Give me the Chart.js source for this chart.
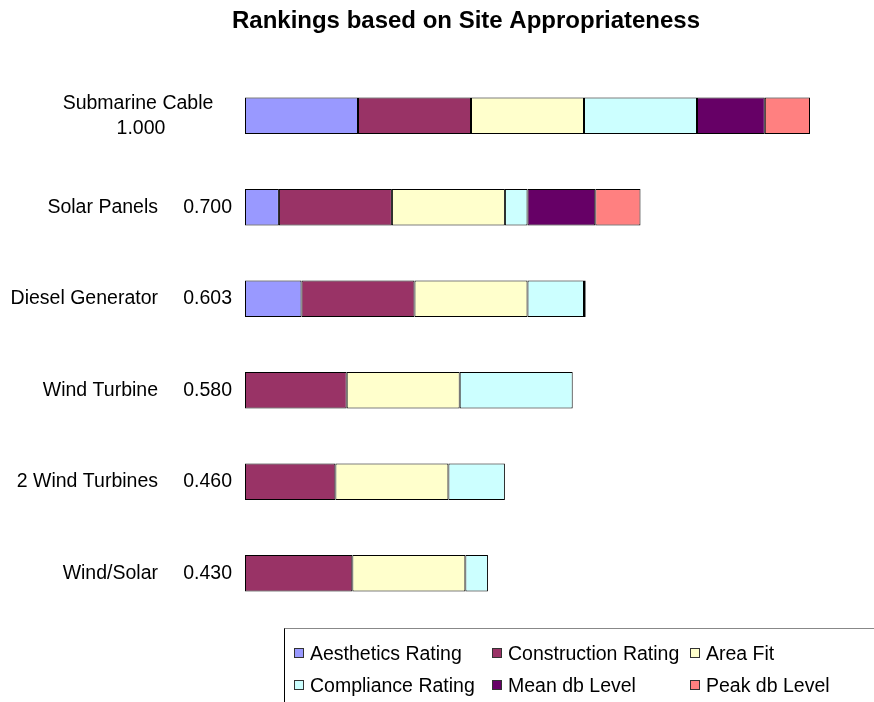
<!DOCTYPE html>
<html>
<head>
<meta charset="utf-8">
<script src="https://cdn.jsdelivr.net/npm/chart.js@4/dist/chart.umd.min.js"></script>
<style>
  body { margin: 0; background: #fff; overflow: hidden; }
  #wrap { position: relative; width: 874px; height: 702px; }
  #legend {
    position: absolute; left: 284px; top: 628px; width: 620px; height: 90px;
    border-left: 1px solid #000; border-top: 1px solid #888;
    font-family: "Liberation Sans", Arial, sans-serif; font-size: 19.5px; color: #000;
    display: grid; grid-template-columns: 198px 198px 198px; grid-auto-rows: 32px;
    padding: 8px 0 0 9px; box-sizing: border-box;
  }
  #legend .item { display: flex; align-items: center; white-space: nowrap; }
  #legend .box { width: 10px; height: 10px; border: 1px solid #333; margin-right: 6px; box-sizing: border-box; }
</style>
</head>
<body>
<div id="wrap">
  <canvas id="rankChart" width="874" height="702"></canvas>
  <div id="legend"></div>
</div>
<script>
// alternatives, top to bottom
var categories = ['Submarine Cable', 'Solar Panels', 'Diesel Generator', 'Wind Turbine', '2 Wind Turbines', 'Wind/Solar'];

// weighted score parts for each alternative
var aesthetics   = [0.20, 0.06, 0.10, null, null, null];
var construction = [0.20, 0.20, 0.20, 0.18, 0.16, 0.19];
var areaFit      = [0.20, 0.20, 0.20, 0.20, 0.20, 0.20];
var compliance   = [0.20, 0.04, 0.10, 0.20, 0.10, 0.04];
var meanDb       = [0.12, 0.12, 0.003, null, null, null];
var peakDb       = [0.08, 0.08, null, null, null, null];

var seriesNames  = ['Aesthetics Rating', 'Construction Rating', 'Area Fit', 'Compliance Rating', 'Mean db Level', 'Peak db Level'];
var seriesColors = ['#9999FF', '#993366', '#FFFFCC', '#CCFFFF', '#660066', '#FF8080'];
var seriesData   = [aesthetics, construction, areaFit, compliance, meanDb, peakDb];

// total score = sum of the parts
var totals = categories.map(function(c, i) {
  return seriesData.reduce(function(s, arr) { return s + (arr[i] || 0); }, 0);
});

var FONT = '"Liberation Sans", Arial, sans-serif';

// category names with their totals, plus the chart title
var labelPlugin = {
  id: 'rankLabels',
  afterDraw: function(chart) {
    var ctx = chart.ctx;
    var yScale = chart.scales.y;
    ctx.save();
    ctx.fillStyle = '#000';
    ctx.font = '19.5px ' + FONT;
    ctx.textBaseline = 'middle';
    categories.forEach(function(name, i) {
      var py = yScale.getPixelForValue(i);
      var score = totals[i].toFixed(3);
      if (ctx.measureText(name).width > 148) {
        // too long for one line, wrap it
        ctx.textAlign = 'center';
        ctx.fillText(name, 138, py - 12.5);
        ctx.fillText(score, 141, py + 12.5);
      } else {
        ctx.textAlign = 'right';
        ctx.fillText(name, 158, py);
        ctx.fillText(score, 232, py);
      }
    });
    ctx.font = 'bold 24px ' + FONT;
    ctx.textAlign = 'center';
    ctx.textBaseline = 'alphabetic';
    ctx.fillText('Rankings based on Site Appropriateness', 466, 28);
    ctx.restore();
  }
};

var datasets = seriesData.map(function(arr, k) {
  return {
    label: seriesNames[k],
    data: arr,
    backgroundColor: seriesColors[k],
    borderColor: '#000',
    borderWidth: 1,
    borderSkipped: false,
    barPercentage: 0.8,
    categoryPercentage: 0.5
  };
});

var ctx = document.getElementById('rankChart');
var myChart = new Chart(ctx, {
  type: 'bar',
  data: { labels: categories, datasets: datasets },
  options: {
    indexAxis: 'y',
    responsive: false,
    animation: false,
    layout: { padding: { left: 245, right: 64, top: 70, bottom: 83 } },
    scales: {
      x: { stacked: true, min: 0, max: 1, display: false },
      y: { stacked: true, display: false }
    },
    plugins: {
      legend: { display: false },
      tooltip: { enabled: false }
    }
  },
  plugins: [labelPlugin]
});

// legend boxes, laid out in three columns
var legend = document.getElementById('legend');
myChart.data.datasets.forEach(function(ds) {
  var item = document.createElement('div');
  item.className = 'item';
  var box = document.createElement('span');
  box.className = 'box';
  box.style.background = ds.backgroundColor;
  item.appendChild(box);
  item.appendChild(document.createTextNode(ds.label));
  legend.appendChild(item);
});
</script>
</body>
</html>
